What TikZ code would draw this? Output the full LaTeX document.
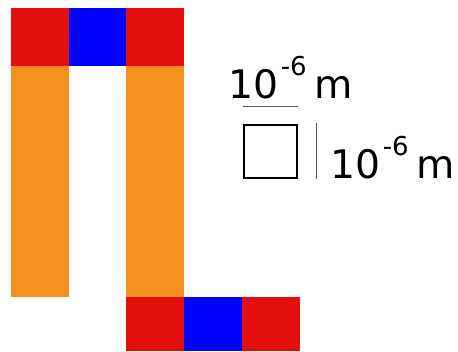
\documentclass[tikz,border=0pt]{standalone}
\usepackage{fontspec}
\setmainfont{DejaVu Sans}
\definecolor{tilered}{RGB}{229,14,14}
\definecolor{tileblue}{RGB}{0,0,255}
\definecolor{tileorange}{RGB}{244,145,30}
\newcommand{\micro}{10\hspace{1.5pt}\raisebox{17pt}{\fontsize{19.5}{20}\selectfont -6}\hspace{6pt}m}
\begin{document}
\begin{tikzpicture}[x=0.75pt,y=-0.75pt]
    \tikzset{
        lbl/.style={anchor=base west, inner sep=0pt, font=\fontsize{29.5}{34}\selectfont},
        scalebar/.style={draw=black!65, line width=0.8pt}
    }
    \useasboundingbox (0,0) rectangle (458,351);
    \def\t{57.7}
    % obere Reihe
    \foreach \i/\c in {0/tilered,1/tileblue,2/tilered} {
        \fill[\c] (11+\i*\t, 8) rectangle ++(\t, \t);
    }
    % zwei Saeulen
    \fill[tileorange] (11, 8+\t) rectangle ++(\t, 4*\t);
    \fill[tileorange] (11+2*\t, 8+\t) rectangle ++(\t, 4*\t);
    % untere Reihe
    \foreach \i/\c in {0/tilered,1/tileblue,2/tilered} {
        \fill[\c] (11+2*\t+\i*\t, 8+5*\t) rectangle (11+3*\t+\i*\t, 351);
    }

    % Massstab
    \node[draw, line width=1.5pt, minimum size=40pt, inner sep=0pt] (unitbox) at (270.4, 151.7) {};
    \draw[scalebar] ([yshift=13.5pt]unitbox.north west) -- ([yshift=13.5pt]unitbox.north east);
    \draw[scalebar] ([xshift=14pt,yshift=1pt]unitbox.north east) -- ([xshift=14pt]unitbox.south east);
    \node[lbl] (toplabel) at (228.5, 98) {\micro};
    \node[lbl] (sidelabel) at (330.5, 178) {\micro};
\end{tikzpicture}
\end{document}
